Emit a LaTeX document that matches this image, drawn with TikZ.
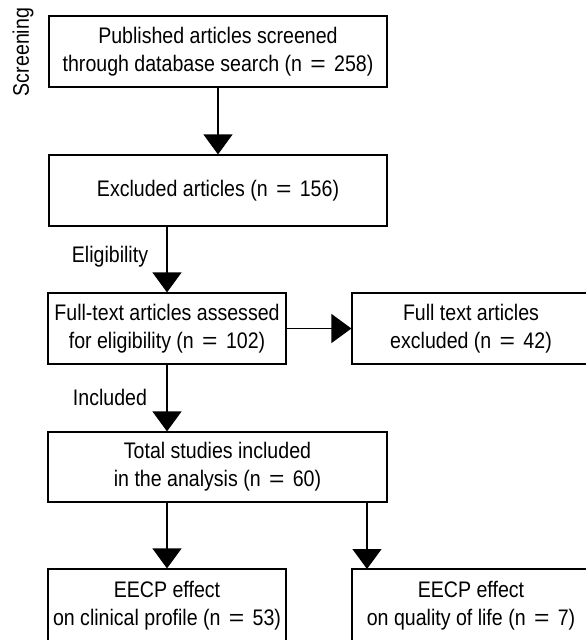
\documentclass[tikz,border=0pt]{standalone}
\usepackage{fontspec}
\setmainfont{Liberation Sans}[FakeStretch=0.87]
\usetikzlibrary{arrows.meta}
\newcommand{\eqsign}{\hspace{0.37em}\scalebox{1.35}[1]{=}\hspace{0.37em}}
\tikzset{
  stagebox/.style={draw, line width=1.2pt, align=center, inner sep=0pt, minimum height=71pt},
  flow/.style={line width=1.2pt, -{Triangle[length=20pt,width=29pt]}},
}

\begin{document}
\begin{tikzpicture}[x=1pt,y=-1pt,font=\fontsize{22.5}{28}\selectfont]
      \useasboundingbox (0,0) rectangle (586,640);
      \clip (0,0) rectangle (586,640);
      \node[rotate=90] (screening) at (23,52) {Screening};
      \node[stagebox, minimum width=338pt] (search) at (218,51.5) {Published articles screened\\through database search (n\eqsign 258)};
      \node[stagebox, minimum width=338pt] (excluded) at (218,190.5) {Excluded articles (n\eqsign 156)};
      \node[stagebox, minimum width=238pt] (assessed) at (167,328.5) {Full-text articles assessed\\for eligibility (n\eqsign 102)};
      \node[stagebox, minimum width=238pt] (ftexcluded) at (471,328.5) {Full text articles\\excluded (n\eqsign 42)};
      \node[stagebox, minimum width=339pt, minimum height=70pt] (total) at (217.5,467) {Total studies included\\in the analysis (n\eqsign 60)};
      \node[stagebox, minimum width=238pt, minimum height=73pt] (clinical) at (167,605.5) {EECP effect\\on clinical profile (n\eqsign 53)};
      \node[stagebox, minimum width=238pt, minimum height=73pt] (quality) at (471,605.5) {EECP effect\\on quality of life (n\eqsign 7)};
      \node (eligibility) at (110,257) {Eligibility};
      \node (included) at (110,397) {Included};
      \coordinate (qtop) at (367,569);
      \draw[flow] (search) -- (excluded);
      \draw[flow] (excluded.south -| assessed) -- (assessed);
      \draw[flow] (assessed) -- (ftexcluded);
      \draw[flow] (assessed) -- (assessed |- total.north);
      \draw[flow] (total.south -| clinical) -- (clinical);
      \draw[flow] (total.south -| qtop) -- (qtop);
    \end{tikzpicture}
\end{document}
